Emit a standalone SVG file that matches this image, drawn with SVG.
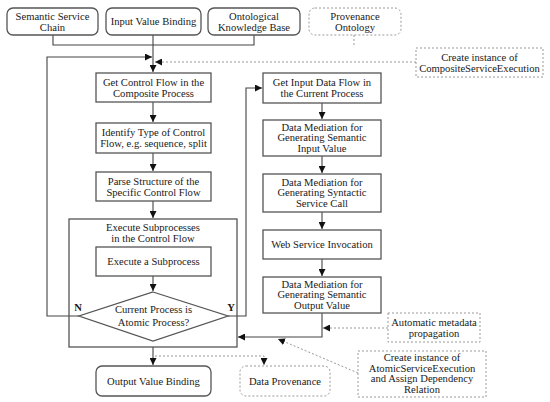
<svg xmlns="http://www.w3.org/2000/svg" width="550" height="402" viewBox="0 0 550 402" font-family="Liberation Serif, Times New Roman, serif">
<defs>
<style>
text{font-family:'Liberation Serif','Times New Roman',Times,serif;font-size:10.6px;fill:#1a1a1a;text-anchor:middle;dominant-baseline:central}
.b{fill:#fff;stroke:#555;stroke-width:1.3}
.d{fill:#fff;stroke:#999;stroke-width:1;stroke-dasharray:2 2}
.c{fill:none;stroke:#444;stroke-width:1.1}
.dc{fill:none;stroke:#999;stroke-width:1;stroke-dasharray:2 2}
.lbl{font-weight:bold}
</style>
<marker id="a" viewBox="0 0 10 10" refX="10" refY="5" markerWidth="7" markerHeight="7" markerUnits="userSpaceOnUse" orient="auto"><path d="M0,0L10,5L0,10z" fill="#111"/></marker>
</defs>
<g id="connectors">
<polyline class="c" points="53,35 53,45 254,45 254,35"/>
<line class="c" x1="153" y1="35" x2="153" y2="72" marker-end="url(#a)"/>
<polyline class="dc" points="354,35 354,45"/>
<polyline class="c" points="79,316 47,316 47,57 152,57" marker-end="url(#a)"/>
<line class="dc" x1="416" y1="62" x2="155" y2="62" marker-end="url(#a)"/>
<line class="c" x1="153" y1="102" x2="153" y2="122" marker-end="url(#a)"/>
<line class="c" x1="153" y1="153" x2="153" y2="171" marker-end="url(#a)"/>
<line class="c" x1="153" y1="201" x2="153" y2="218" marker-end="url(#a)"/>
<line class="c" x1="153" y1="276" x2="153" y2="291" marker-end="url(#a)"/>
<polyline class="c" points="228,316 246,316 246,88 262,88" marker-end="url(#a)"/>
<line class="c" x1="322" y1="103" x2="322" y2="119" marker-end="url(#a)"/>
<line class="c" x1="322" y1="156" x2="322" y2="173" marker-end="url(#a)"/>
<line class="c" x1="322" y1="212" x2="322" y2="229" marker-end="url(#a)"/>
<line class="c" x1="322" y1="259" x2="322" y2="276" marker-end="url(#a)"/>
<polyline class="c" points="322,313 322,337 238,337" marker-end="url(#a)"/>
<line class="dc" x1="388" y1="328" x2="323" y2="328" marker-end="url(#a)"/>
<line class="dc" x1="358" y1="373" x2="278" y2="339" marker-end="url(#a)"/>
<line class="c" x1="153" y1="347" x2="153" y2="365" marker-end="url(#a)"/>
<polyline class="dc" points="155,356 264,356 264,365" marker-end="url(#a)"/>
</g>
<g id="n1"><rect class="b" x="7" y="8" width="91" height="27" rx="6"/><text x="52.5" y="16">Semantic Service</text><text x="52.5" y="27">Chain</text></g>
<g id="n2"><rect class="b" x="106" y="8" width="95" height="27" rx="6"/><text x="153.5" y="21.5">Input Value Binding</text></g>
<g id="n3"><rect class="b" x="208" y="8" width="92" height="27" rx="6"/><text x="254" y="16">Ontological</text><text x="254" y="27">Knowledge Base</text></g>
<g id="n4"><rect class="d" x="309" y="8" width="92" height="27" rx="6"/><text x="355" y="16">Provenance</text><text x="355" y="27">Ontology</text></g>
<g id="n5"><rect class="d" x="416" y="48" width="127" height="29"/><text x="479.5" y="57">Create instance of</text><text x="479.5" y="68">CompositeServiceExecution</text></g>
<g id="n6"><rect class="b" x="96" y="73" width="115" height="29"/><text x="153.5" y="82">Get Control Flow in the</text><text x="153.5" y="93">Composite Process</text></g>
<g id="n7"><rect class="b" x="96" y="123" width="115" height="30"/><text x="153.5" y="132">Identify Type of Control</text><text x="153.5" y="143">Flow, e.g. sequence, split</text></g>
<g id="n8"><rect class="b" x="96" y="172" width="115" height="29"/><text x="153.5" y="181">Parse Structure of the</text><text x="153.5" y="192">Specific Control Flow</text></g>
<g id="n9"><rect class="b" x="69" y="219" width="168" height="128" style="fill:none"/><text x="153" y="227">Execute Subprocesses</text><text x="153" y="238">in the Control Flow</text></g>
<g id="n10"><rect class="b" x="96" y="247" width="115" height="29"/><text x="153.5" y="261.5">Execute a Subprocess</text></g>
<g id="n11"><polygon class="b" points="153,292 228,316 153,341 79,316"/><text x="153.5" y="309">Current Process is</text><text x="153.5" y="322">Atomic Process?</text></g>
<g id="n12"><rect class="b" x="263" y="73" width="118" height="30"/><text x="322" y="82">Get Input Data Flow in</text><text x="322" y="93">the Current Process</text></g>
<g id="n13"><rect class="b" x="263" y="120" width="118" height="36"/><text x="322" y="127">Data Mediation for</text><text x="322" y="137.5">Generating Semantic</text><text x="322" y="148">Input Value</text></g>
<g id="n14"><rect class="b" x="263" y="174" width="118" height="38"/><text x="322" y="182">Data Mediation for</text><text x="322" y="192.5">Generating Syntactic</text><text x="322" y="203">Service Call</text></g>
<g id="n15"><rect class="b" x="263" y="230" width="118" height="29"/><text x="322" y="244.5">Web Service Invocation</text></g>
<g id="n16"><rect class="b" x="263" y="277" width="118" height="36"/><text x="322" y="284">Data Mediation for</text><text x="322" y="294.5">Generating Semantic</text><text x="322" y="305">Output Value</text></g>
<g id="n17"><rect class="d" x="388" y="313" width="92" height="29"/><text x="434" y="322">Automatic metadata</text><text x="434" y="333">propagation</text></g>
<g id="n18"><rect class="d" x="358" y="351" width="128" height="46"/><text x="422" y="357">Create instance of</text><text x="422" y="368">AtomicServiceExecution</text><text x="422" y="378.5">and Assign Dependency</text><text x="422" y="389">Relation</text></g>
<g id="n19"><rect class="b" x="96" y="366" width="115" height="30" rx="6"/><text x="153.5" y="381">Output Value Binding</text></g>
<g id="n20"><rect class="d" x="240" y="366" width="90" height="30" rx="6"/><text x="285" y="381">Data Provenance</text></g>
<g id="labels"><text class="lbl" x="78" y="307">N</text><text class="lbl" x="231" y="307">Y</text></g>
</svg>
